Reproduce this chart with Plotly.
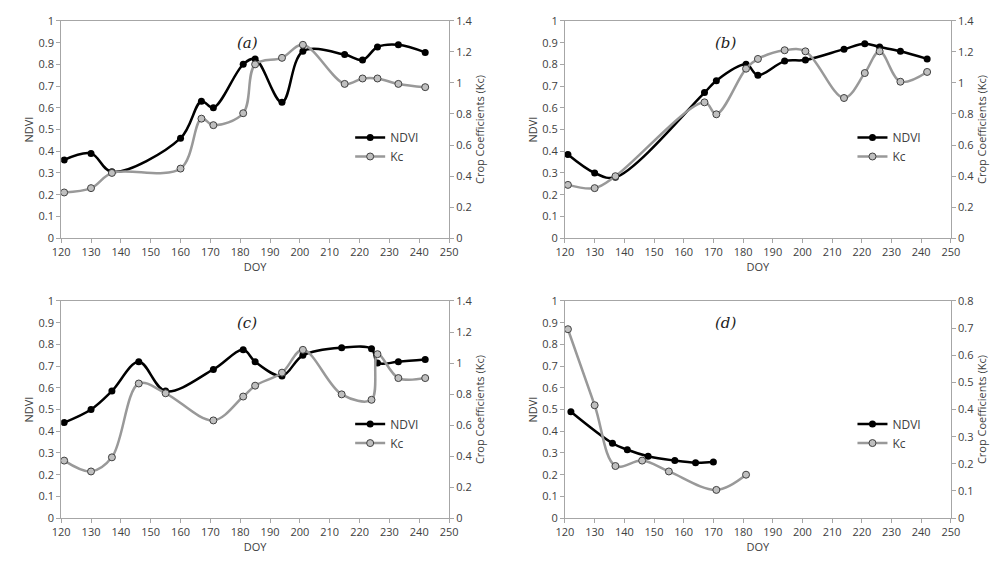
import plotly.graph_objects as go

# panel (a)
a_ndvi_doy = [121, 130, 137, 160, 167, 171, 181, 185, 194, 201, 215, 221, 226, 233, 242]
a_ndvi = [0.36, 0.39, 0.305, 0.46, 0.63, 0.60, 0.80, 0.825, 0.625, 0.86, 0.845, 0.82, 0.88, 0.89, 0.855]
a_kc_doy = [121, 130, 137, 160, 167, 171, 181, 185, 194, 201, 215, 221, 226, 233, 242]
a_kc = [0.294, 0.322, 0.42, 0.448, 0.77, 0.728, 0.805, 1.12, 1.162, 1.246, 0.994, 1.029, 1.029, 0.994, 0.973]

# panel (b)
b_ndvi_doy = [121, 130, 137, 167, 171, 181, 185, 194, 201, 214, 221, 226, 233, 242]
b_ndvi = [0.385, 0.30, 0.28, 0.67, 0.725, 0.80, 0.75, 0.815, 0.82, 0.87, 0.895, 0.88, 0.86, 0.825]
b_kc_doy = [121, 130, 137, 167, 171, 181, 185, 194, 201, 214, 221, 226, 233, 242]
b_kc = [0.343, 0.322, 0.399, 0.875, 0.798, 1.092, 1.155, 1.211, 1.204, 0.903, 1.064, 1.204, 1.008, 1.071]

# panel (c)
c_ndvi_doy = [121, 130, 137, 146, 155, 171, 181, 185, 194, 201, 214, 224, 226, 233, 242]
c_ndvi = [0.44, 0.50, 0.585, 0.72, 0.585, 0.685, 0.775, 0.72, 0.655, 0.75, 0.785, 0.78, 0.715, 0.72, 0.73]
c_kc_doy = [121, 130, 137, 146, 155, 171, 181, 185, 194, 201, 214, 224, 226, 233, 242]
c_kc = [0.371, 0.301, 0.392, 0.868, 0.805, 0.63, 0.784, 0.854, 0.938, 1.085, 0.798, 0.763, 1.057, 0.903, 0.903]

# panel (d)
d_ndvi_doy = [122, 136, 141, 148, 157, 164, 170]
d_ndvi = [0.49, 0.345, 0.315, 0.285, 0.265, 0.255, 0.258]
d_kc_doy = [121, 130, 137, 146, 155, 171, 181]
d_kc = [0.696, 0.416, 0.192, 0.212, 0.172, 0.104, 0.16]

panels = [
    ("(a)", a_ndvi_doy, a_ndvi, a_kc_doy, a_kc, 1.4, [0.045, 0.44], [0.594, 0.991], 0.53),
    ("(b)", b_ndvi_doy, b_ndvi, b_kc_doy, b_kc, 1.4, [0.558, 0.951], [0.594, 0.991], 0.53),
    ("(c)", c_ndvi_doy, c_ndvi, c_kc_doy, c_kc, 1.4, [0.045, 0.44], [0.082, 0.479], 0.50),
    ("(d)", d_ndvi_doy, d_ndvi, d_kc_doy, d_kc, 0.8, [0.558, 0.951], [0.082, 0.479], 0.50),
]

tickfont = dict(family="Open Sans, sans-serif", size=11, color="#404040")
axline = "#a6a6a6"
fig = go.Figure()
layout = {}
annotations = []

for i, (lab, nx, ny, kx, ky, kmax, xd, yd, ly) in enumerate(panels):
    n = i + 1
    xa = "x" if n == 1 else f"x{n}"
    ya = "y" if n == 1 else f"y{2 * n - 1}"
    ya2 = f"y{2 * n}"
    leg = "legend" if n == 1 else f"legend{n}"
    fig.add_trace(go.Scatter(x=nx, y=ny, name="NDVI", mode="lines+markers", line_shape="spline",
                             line=dict(color="black", width=2.5),
                             marker=dict(color="black", size=7),
                             xaxis=xa, yaxis=ya, legend=leg))
    fig.add_trace(go.Scatter(x=kx, y=ky, name="Kc", mode="lines+markers", line_shape="spline",
                             line=dict(color="#999999", width=2.5),
                             marker=dict(color="#bfbfbf", size=7, line=dict(color="#404040", width=1)),
                             xaxis=xa, yaxis=ya2, legend=leg))
    xkey = "xaxis" if n == 1 else f"xaxis{n}"
    ykey = "yaxis" if n == 1 else f"yaxis{2 * n - 1}"
    y2key = f"yaxis{2 * n}"
    layout[xkey] = dict(domain=xd, anchor=ya, range=[120, 250], dtick=10, showgrid=False,
                        showline=True, linecolor=axline, mirror=True, ticks="outside",
                        ticklen=4, tickcolor=axline, tickfont=tickfont,
                        title=dict(text="DOY", font=tickfont, standoff=4), zeroline=False)
    layout[ykey] = dict(domain=yd, anchor=xa, range=[0, 1], dtick=0.1, showgrid=False,
                        showline=True, linecolor=axline, ticks="outside", ticklen=4,
                        tickcolor=axline, tickfont=tickfont, zeroline=False,
                        title=dict(text="NDVI", font=tickfont, standoff=2))
    layout[y2key] = dict(overlaying=ya, anchor=xa, side="right", range=[0, kmax],
                         dtick=0.2 if kmax > 1 else 0.1, showgrid=False, showline=True,
                         linecolor=axline, ticks="outside", ticklen=4, tickcolor=axline,
                         tickfont=tickfont, zeroline=False,
                         title=dict(text="Crop Coefficients (Kc)", font=tickfont, standoff=4))
    layout[leg] = dict(x=xd[0] + (xd[1] - xd[0]) * 0.745, y=yd[0] + (yd[1] - yd[0]) * ly,
                       xanchor="left", yanchor="top", bgcolor="rgba(0,0,0,0)",
                       font=dict(family="Open Sans, sans-serif", size=12, color="#404040"),
                       tracegroupgap=8)
    annotations.append(dict(text="<i>" + lab + "</i>", x=(xd[0] + xd[1]) / 2 - 0.02, y=yd[1] - 0.02,
                            xref="paper", yref="paper", showarrow=False, yanchor="top",
                            font=dict(family="DejaVu Serif, serif", size=15, color="#222222")))

fig.update_layout(**layout)
fig.update_layout(width=1000, height=562, margin=dict(l=0, r=0, t=0, b=0),
                  plot_bgcolor="white", paper_bgcolor="white", annotations=annotations)

fig.write_html("out.html")
